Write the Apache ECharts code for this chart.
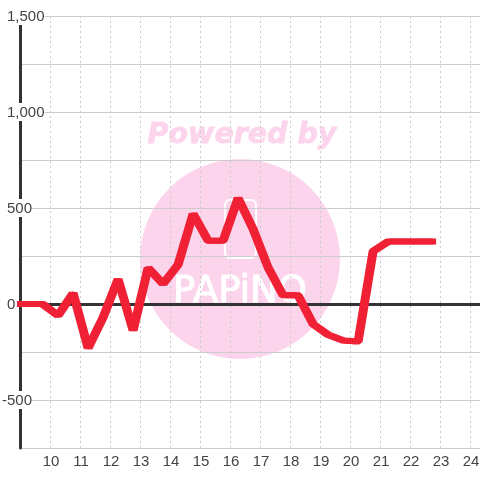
<!DOCTYPE html>
<html><head><meta charset="utf-8">
<style>html,body{margin:0;padding:0;background:#fff}#c{width:480px;height:480px}</style>
<script src="https://cdn.jsdelivr.net/npm/echarts@6/dist/echarts.min.js"></script>
</head><body><div id="c"></div>
<script>
const hours = [9.05, 9.75, 10.27, 10.77, 11.27, 11.77, 12.27, 12.77, 13.27, 13.77, 14.27, 14.77, 15.27, 15.77, 16.27, 16.77, 17.27, 17.77, 18.27, 18.77, 19.27, 19.77, 20.27, 20.77, 21.27, 21.77, 22.27, 22.72];
const values = [0, 0, -60, 57, -230, -70, 130, -138, 188, 105, 205, 470, 330, 330, 552, 390, 190, 45, 45, -105, -160, -190, -195, 275, 325, 325, 325, 325];
const yTickLabels = [1500, 1000, 500, 0, -500];
const xTickLabels = [10, 11, 12, 13, 14, 15, 16, 17, 18, 19, 20, 21, 22, 23, 24];
const watermarkTitle = 'Powered by';
const watermarkName = 'PAPiNO';

const FONT = '"Liberation Sans", Arial, sans-serif';
const PINK = '#fcd5ec';
const RED = '#f02035';
const STROKE_SPREAD_PX = 3;
const STROKE_SHIFT_HOURS = (STROKE_SPREAD_PX / 2) / 30;
const chart = echarts.init(document.getElementById('c'), null, {renderer: 'canvas'});
chart.setOption({
  animation: false,
  backgroundColor: '#fff',
  grid: {left: 20, right: 0, top: 16, bottom: 32, outerBoundsMode: 'none'},
  graphic: [
    {type: 'circle', z: -10, shape: {cx: 240, cy: 259, r: 100}, style: {fill: PINK}},
    {type: 'text', z: -10, x: 242, y: 136, style: {text: watermarkTitle, fill: PINK, stroke: PINK, lineWidth: 0.8, font: 'italic bold 28.5px "DejaVu Sans"', align: 'center', verticalAlign: 'middle'}},
    {type: 'rect', z: -9, shape: {x: 225, y: 200, width: 31, height: 58, r: 5}, style: {fill: 'none', stroke: '#fff', lineWidth: 2}},
    {type: 'text', z: -9, x: 240, y: 292, style: {text: watermarkName, fill: '#fff', stroke: '#fff', lineWidth: 1, font: '37px "DejaVu Sans"', align: 'center', verticalAlign: 'middle'}}
  ],
  xAxis: [{
    type: 'value', min: 9, max: 9 + 460 / 30, interval: 1,
    axisLine: {show: false, onZero: false},
    axisTick: {show: false},
    axisLabel: {
      color: '#444', fontFamily: FONT, fontSize: 15, margin: 6, padding: [0, 0, 0, 2],
      showMinLabel: false, showMaxLabel: false,
      formatter: v => xTickLabels.includes(v) ? String(v) : ''
    },
    splitLine: {show: true, lineStyle: {color: '#ccc', type: [2, 3], width: 1}}
  }, {
    type: 'value', min: 9, max: 9 + 460 / 30, interval: 1,
    position: 'bottom',
    axisLine: {show: true, onZero: true, lineStyle: {color: '#333', width: 3}},
    axisTick: {show: false}, axisLabel: {show: false}, splitLine: {show: false}
  }],
  yAxis: {
    type: 'value', min: -750, max: 1500, interval: 250,
    axisLine: {show: true, onZero: false, lineStyle: {color: '#333', width: 3}},
    axisTick: {show: false},
    axisLabel: {
      inside: true, align: 'left', margin: -18, color: '#444', fontFamily: FONT, fontSize: 15,
      customValues: yTickLabels, backgroundColor: '#fff', lineHeight: 16, padding: [2, 0, 0, 0],
      formatter: v => {
        const s = Number(v).toLocaleString('en-US');
        return v < 0 ? s : '{p|' + s + '}';
      },
      rich: {p: {padding: [0, 0, 0, 5], color: '#444', fontFamily: FONT, fontSize: 15}}
    },
    splitLine: {show: true, lineStyle: {color: '#ccc', width: 1}}
  },
  series: [{
    type: 'line', data: hours.map((h, i) => [h - STROKE_SHIFT_HOURS, values[i]]),
    symbol: 'none', clip: false, z: 5,
    lineStyle: {color: RED, width: 6, cap: 'square', join: 'bevel', shadowColor: RED, shadowBlur: 0, shadowOffsetX: STROKE_SPREAD_PX}
  }]
});
</script></body></html>
